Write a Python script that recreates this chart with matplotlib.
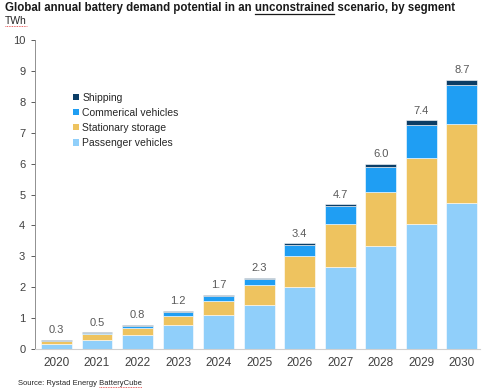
import numpy as np
import matplotlib.pyplot as plt
from matplotlib.patches import Patch
from matplotlib.lines import Line2D

plt.rcParams['font.family'] = ['Liberation Sans', 'DejaVu Sans']

years = ['2020', '2021', '2022', '2023', '2024', '2025', '2026', '2027', '2028', '2029', '2030']
passenger = [0.17, 0.31, 0.46, 0.77, 1.10, 1.42, 2.02, 2.66, 3.34, 4.05, 4.72]
stationary = [0.08, 0.17, 0.23, 0.31, 0.46, 0.66, 0.99, 1.38, 1.75, 2.14, 2.56]
commercial = [0.03, 0.04, 0.06, 0.12, 0.17, 0.18, 0.37, 0.58, 0.81, 1.05, 1.25]
shipping = [0.03, 0.03, 0.03, 0.03, 0.03, 0.04, 0.04, 0.06, 0.10, 0.16, 0.18]
totals = [0.3, 0.5, 0.8, 1.2, 1.7, 2.3, 3.4, 4.7, 6.0, 7.4, 8.7]

colors = {
    'Passenger vehicles': '#90cffa',
    'Stationary storage': '#eec35f',
    'Commerical vehicles': '#1f9ef3',
    'Shipping': '#0b3d66',
}

W, H = 500, 391
fig = plt.figure(figsize=(W / 100, H / 100), dpi=100)
ax = fig.add_axes([0.07, 0.107, 0.89, 0.791])

x = np.arange(len(years))
w = 0.76
bottom = np.zeros(len(years))
for name, vals in [('Passenger vehicles', passenger), ('Stationary storage', stationary),
                   ('Commerical vehicles', commercial), ('Shipping', shipping)]:
    ax.bar(x, vals, w, bottom=bottom, color=colors[name], edgecolor='white', linewidth=0.4)
    bottom += np.array(vals)

for xi, top, t in zip(x, bottom, totals):
    ax.text(xi, top + 0.15, f'{t:.1f}', ha='center', va='bottom', fontsize=8, color='#595959')

ax.set_ylim(0, 10)
ax.set_xlim(-0.53, 10.45)
ax.set_yticks(range(0, 11))
ax.set_xticks(x)
ax.set_xticklabels(years)
ax.tick_params(axis='y', labelsize=8, colors='#404040', length=3, width=0.6, pad=4)
ax.tick_params(axis='x', labelsize=8.5, colors='#404040', length=0, pad=6)
for s in ['top', 'right']:
    ax.spines[s].set_visible(False)
ax.spines['left'].set_color('#7f7f7f')
ax.spines['left'].set_linewidth(0.6)
ax.spines['bottom'].set_color('#d0d0d0')
ax.spines['bottom'].set_linewidth(0.8)

# legend
handles = [Patch(facecolor=colors[n], label=n) for n in
           ['Shipping', 'Commerical vehicles', 'Stationary storage', 'Passenger vehicles']]
ax.legend(handles=handles, loc='upper left', bbox_to_anchor=(0.065, 0.86), frameon=False,
          fontsize=7.5, handlelength=0.55, handleheight=0.55, handletextpad=0.3,
          labelspacing=0.5, labelcolor='#262626')

fig.canvas.draw()
r = fig.canvas.get_renderer()


def text_width(s, kw):
    t = fig.text(0, 0, s, **kw)
    wdt = t.get_window_extent(renderer=r).width
    t.remove()
    return wdt


def mark_word(x0, y0, prefix, word, kw, line_color, ls, dy, lw):
    # line under `word`, which follows `prefix` in a text drawn at (x0, y0) px
    end = x0 + text_width(prefix + word, kw)
    start = end - text_width(word, kw)
    fig.add_artist(Line2D([start / W, end / W], [(y0 - dy) / H] * 2, color=line_color,
                          linewidth=lw, linestyle=ls, transform=fig.transFigure))


title_kw = dict(fontsize=8.3, fontweight='bold', color='#1a1a1a')
ty = H - 11.5
fig.text(5 / W, ty / H, 'Global annual battery demand potential in an unconstrained scenario, by segment',
         ha='left', va='baseline', **title_kw)
mark_word(5, ty, 'Global annual battery demand potential in an ', 'unconstrained', title_kw,
          '#1a1a1a', '-', 2.2, 0.9)

unit_kw = dict(fontsize=7.5, color='#262626')
uy = H - 24
fig.text(5 / W, uy / H, 'TWh', ha='left', va='baseline', **unit_kw)
mark_word(5, uy, '', 'TWh', unit_kw, '#e03030', (0, (1, 1)), 2, 0.6)

src_kw = dict(fontsize=5.5, color='#262626')
sy = H - 385
fig.text(18 / W, sy / H, 'Source: Rystad Energy BatteryCube', ha='left', va='baseline', **src_kw)
mark_word(18, sy, 'Source: Rystad Energy ', 'BatteryCube', src_kw, '#e03030', (0, (1, 1)), 2, 0.6)

fig.savefig('out.png', dpi=100)
